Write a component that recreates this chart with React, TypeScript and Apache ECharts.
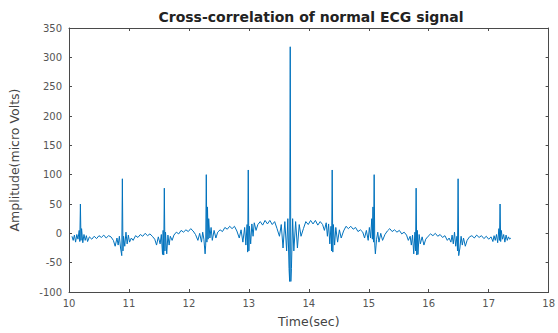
import React, { useEffect, useRef } from "react";
import * as echarts from "echarts";

const titleText = "Cross-correlation of normal ECG signal";
const xAxisName = "Time(sec)";
const yAxisName = "Amplitude(micro Volts)";
const xRange = [10, 18];
const yRange = [-100, 350];

// [time (sec), amplitude]
const beat1 = [[10.05,-5],[10.07,-12],[10.09,-3],[10.11,-15],[10.13,-2],[10.15,-10],[10.17,5],[10.18,-14],[10.19,50],[10.2,-12],[10.21,8],[10.23,-16],[10.25,-2],[10.27,-12],[10.29,-4],[10.31,-14],[10.34,-6],[10.38,-10],
  [10.42,-5],[10.46,-9],[10.5,-4],[10.54,-7],[10.58,-3],[10.62,-8],[10.66,-4],[10.7,-6]];
const beat2 = [[10.74,-12],[10.77,-22],[10.8,-8],[10.82,-20],[10.84,-5],[10.86,-25],[10.88,-38],[10.89,93],[10.9,-30],[10.91,-5],[10.93,-22],[10.95,2],[10.97,-18],[10.99,-3],[11.01,-15],[11.04,-8],[11.07,-12],
  [11.11,-4],[11.15,-7],[11.19,-2],[11.23,-5],[11.27,0],[11.31,-4],[11.35,-1],[11.39,-5]];
const beat3 = [[11.43,-10],[11.46,-20],[11.49,-6],[11.52,-18],[11.54,-2],[11.56,-36],[11.57,5],[11.58,-37],[11.59,77],[11.6,-30],[11.61,2],[11.63,-35],[11.65,-3],[11.67,-20],[11.69,-5],[11.72,-12],[11.75,-3],
  [11.79,2],[11.83,-1],[11.87,5],[11.91,2],[11.95,6],[11.99,3],[12.03,8],[12.07,4]];
const beat4 = [[12.11,-2],[12.15,-12],[12.18,0],[12.21,-15],[12.23,2],[12.25,-10],[12.27,-35],[12.28,-20],[12.29,100],[12.3,-15],[12.31,45],[12.32,-10],[12.33,25],[12.35,-8],[12.37,10],[12.39,-12],[12.42,5],[12.45,-8],[12.48,2],
  [12.52,6],[12.56,3],[12.6,10],[12.64,7],[12.68,12],[12.72,8],[12.76,12]];
const beat5 = [[12.8,4],[12.84,-8],[12.87,6],[12.9,-15],[12.93,10],[12.95,-20],[12.97,15],[12.98,-32],[12.99,108],[13.0,-30],[13.01,12],[13.03,-18],[13.05,16],[13.07,-5],[13.09,18],[13.12,5],[13.15,15],
  [13.19,20],[13.23,14],[13.27,22],[13.31,16],[13.35,22],[13.39,15],[13.43,20]];
const beat6 = [[13.47,8],[13.51,-5],[13.54,15],[13.57,-25],[13.6,20],[13.63,-30],[13.65,25],[13.67,-60],[13.68,-82],[13.69,318],[13.7,-82],[13.71,-60],[13.73,25],[13.75,-30],[13.78,20],[13.81,-25],[13.84,15],[13.87,-5],[13.91,8],
  [13.95,20],[13.99,15],[14.03,22],[14.07,16],[14.11,22],[14.15,14],[14.19,20]];
const beat7 = [[14.23,15],[14.26,5],[14.29,18],[14.31,-5],[14.33,16],[14.35,-18],[14.37,12],[14.38,-30],[14.39,108],[14.4,-32],[14.41,15],[14.43,-20],[14.45,10],[14.48,-15],[14.51,6],[14.54,-8],[14.58,4],
  [14.62,12],[14.66,8],[14.7,12],[14.74,7],[14.78,10],[14.82,3],[14.86,6]];
const beat8 = [[14.9,2],[14.93,-8],[14.96,5],[14.99,-12],[15.01,10],[15.03,-8],[15.05,25],[15.06,-10],[15.07,45],[15.08,-15],[15.09,100],[15.1,-20],[15.11,-35],[15.13,-10],[15.15,2],[15.17,-15],[15.2,0],[15.23,-12],[15.27,-2],
  [15.31,4],[15.35,8],[15.39,3],[15.43,6],[15.47,2],[15.51,5],[15.55,-1],[15.59,2]];
const beat9 = [[15.63,-3],[15.66,-12],[15.69,-5],[15.71,-20],[15.73,-3],[15.75,-35],[15.77,2],[15.78,-30],[15.79,77],[15.8,-37],[15.81,5],[15.82,-36],[15.84,-2],[15.86,-18],[15.89,-6],[15.92,-20],[15.95,-10],
  [15.99,-5],[16.03,-1],[16.07,-4],[16.11,0],[16.15,-5],[16.19,-2],[16.23,-7],[16.27,-4]];
const beat10 = [[16.31,-12],[16.34,-8],[16.37,-15],[16.39,-3],[16.41,-18],[16.43,2],[16.45,-22],[16.47,-5],[16.48,-30],[16.49,93],[16.5,-38],[16.52,-25],[16.54,-5],[16.56,-20],[16.58,-8],[16.61,-22],[16.64,-12],
  [16.68,-6],[16.72,-4],[16.76,-8],[16.8,-3],[16.84,-7],[16.88,-4],[16.92,-9],[16.96,-5]];
const beat11 = [[17.0,-10],[17.04,-6],[17.07,-14],[17.09,-4],[17.11,-12],[17.13,-2],[17.15,-16],[17.17,8],[17.18,-12],[17.19,50],[17.2,-14],[17.21,5],[17.23,-10],[17.25,-2],[17.27,-15],[17.29,-3],[17.31,-12],[17.33,-6],[17.35,-10],[17.37,-8]];

const signal = [...beat1, ...beat2, ...beat3, ...beat4, ...beat5, ...beat6, ...beat7, ...beat8, ...beat9, ...beat10, ...beat11];

const FONT = "'DejaVu Sans', Verdana, sans-serif";
const AXIS_COLOR = "#4a4a4a";

export default function App() {
  const ref = useRef<HTMLDivElement>(null);
  useEffect(() => {
    if (!ref.current) return;
    const chart = echarts.init(ref.current, null, { renderer: "svg" });
    const labelStyle = { color: "#555", fontSize: 10, fontFamily: FONT };
    const tick = { show: true, inside: true, length: 3, lineStyle: { color: AXIS_COLOR } };
    const line = { show: true, onZero: false, lineStyle: { color: AXIS_COLOR, width: 1 } };
    chart.setOption({
      animation: false,
      backgroundColor: "#ffffff",
      grid: { left: 69, right: 5, top: 28, bottom: 34, containLabel: false },
      graphic: [
        {
          type: "text",
          x: 311,
          y: 10,
          style: { text: titleText, align: "center", font: `bold 14px ${FONT}`, fill: "#222" },
        },
      ],
      xAxis: [
        {
          type: "value",
          min: xRange[0],
          max: xRange[1],
          interval: 1,
          name: xAxisName,
          nameLocation: "middle",
          nameGap: 23,
          nameTextStyle: { color: "#444", fontSize: 12.5, fontFamily: FONT },
          axisLine: line,
          axisTick: tick,
          axisLabel: { ...labelStyle, margin: 6 },
          splitLine: { show: false },
        },
        {
          type: "value",
          position: "top",
          min: xRange[0],
          max: xRange[1],
          interval: 1,
          axisLine: line,
          axisTick: tick,
          axisLabel: { show: false },
          splitLine: { show: false },
        },
      ],
      yAxis: [
        {
          type: "value",
          min: yRange[0],
          max: yRange[1],
          interval: 50,
          name: yAxisName,
          nameLocation: "middle",
          nameGap: 48,
          nameTextStyle: { color: "#444", fontSize: 12.5, fontFamily: FONT },
          axisLine: line,
          axisTick: tick,
          axisLabel: { ...labelStyle, margin: 7 },
          splitLine: { show: false },
        },
        {
          type: "value",
          position: "right",
          min: yRange[0],
          max: yRange[1],
          interval: 50,
          axisLine: line,
          axisTick: tick,
          axisLabel: { show: false },
          splitLine: { show: false },
        },
      ],
      series: [
        {
          type: "line",
          data: signal,
          showSymbol: false,
          symbol: "none",
          lineStyle: { color: "#0072BD", width: 1 },
          xAxisIndex: 0,
          yAxisIndex: 0,
        },
      ],
    });
    return () => chart.dispose();
  }, []);
  return (
    <div
      ref={ref}
      style={{ position: "fixed", left: 0, top: 0, width: 558, height: 333, background: "#fff" }}
    />
  );
}
